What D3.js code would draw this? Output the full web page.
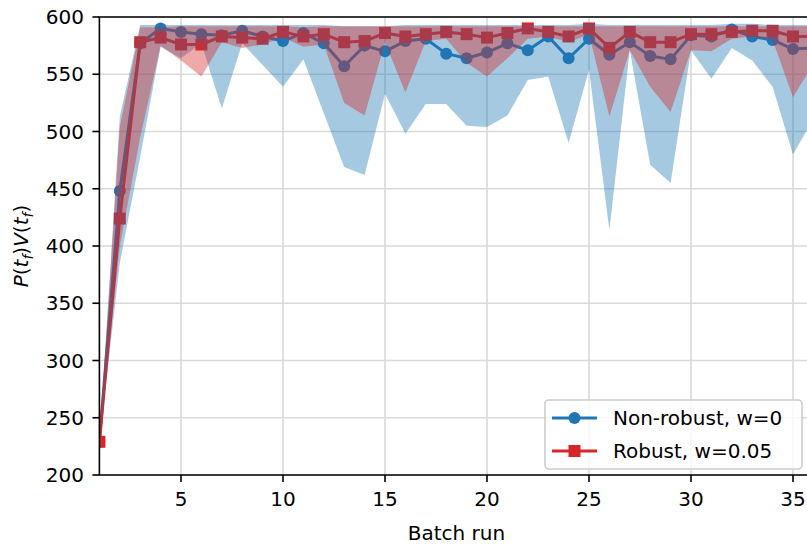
<!DOCTYPE html>
<html>
<head>
<meta charset="utf-8">
<script src="https://cdn.jsdelivr.net/npm/d3@7"></script>
<style>
  html, body { margin: 0; padding: 0; background: #fff; overflow: hidden; }
  svg { display: block; font-family: "DejaVu Sans", sans-serif; }
</style>
</head>
<body>
<svg id="chart" width="807" height="546"></svg>
<script>
// ---- data ----
const batches = [1,2,3,4,5,6,7,8,9,10,11,12,13,14,15,16,17,18,19,20,21,22,23,24,25,26,27,28,29,30,31,32,33,34,35,36];

const nonRobustMean = [229,448,577,590,587,585,584,588,583,579,586,577,557,575,570,579,581,568,564,569,577,571,583,564,581,567,578,566,563,584,583,589,583,580,572,573];
const nonRobustLow  = [229,385,478,574,564,577,520,577,558,539,563,516,469,462,533,498,524,524,505,504,514,545,548,490,554,414,571,471,455,571,546,573,562,539,480,511];
const nonRobustHigh = [229,513,593,593,593,593,593,593,593,593,593,593,592,592,592,593,593,593,593,593,593,593,593,593,594,593,593,593,593,593,593,594,594,593,593,593];

const robustMean = [229,424,578,582,576,576,583,582,581,587,583,585,578,579,586,583,585,587,585,582,586,590,587,583,590,573,587,578,578,585,585,587,588,588,583,583];
const robustLow  = [229,400,495,575,562,548,578,573,576,582,574,576,525,514,578,534,579,581,560,548,564,581,583,578,585,513,571,539,517,571,570,581,583,580,530,559];
const robustHigh = [229,504,591,591,592,592,592,592,592,592,591,592,592,592,592,592,592,592,592,592,592,592,592,592,592,592,592,592,592,592,592,592,592,592,592,592];

const xTicks = [5,10,15,20,25,30,35];
const yTicks = [200,250,300,350,400,450,500,550,600];
const seriesNames = ["Non-robust, w=0", "Robust, w=0.05"];
const xLabel = "Batch run";

// ---- layout ----
const svg = d3.select("#chart");
const pL = 99.4, pR = 813.4, pT = 17, pB = 475;
const blue = "#1f77b4", red = "#d62728";

const x = d3.scaleLinear().domain([1, 36]).range([pL, pR]);
const y = d3.scaleLinear().domain([200, 600]).range([pB, pT]);

const defs = svg.append("defs");
defs.append("clipPath").attr("id", "plotclip")
  .append("rect").attr("x", pL).attr("y", pT).attr("width", pR - pL).attr("height", pB - pT);

// grid
const grid = svg.append("g");
grid.selectAll("line.gx").data(xTicks).enter().append("line")
  .attr("x1", d => x(d)).attr("x2", d => x(d)).attr("y1", pT).attr("y2", pB)
  .attr("stroke", "#d9d9d9").attr("stroke-width", 1.6);
grid.selectAll("line.gy").data(yTicks).enter().append("line")
  .attr("x1", pL).attr("x2", pR).attr("y1", d => y(d)).attr("y2", d => y(d))
  .attr("stroke", "#d9d9d9").attr("stroke-width", 1.6);

const plot = svg.append("g").attr("clip-path", "url(#plotclip)");

const line = (vals) => d3.line().x((d, i) => x(batches[i])).y(d => y(d))(vals);
const area = (lo, hi) => d3.area()
  .x((d, i) => x(batches[i]))
  .y0((d, i) => y(lo[i]))
  .y1((d, i) => y(hi[i]))(lo);

// lines + markers (drawn first, fills over them)
plot.append("path").attr("d", line(nonRobustMean)).attr("fill", "none")
  .attr("stroke", blue).attr("stroke-width", 3).attr("stroke-linejoin", "round");
plot.selectAll("circle.nr").data(nonRobustMean).enter().append("circle")
  .attr("cx", (d, i) => x(batches[i])).attr("cy", d => y(d)).attr("r", 6).attr("fill", blue);

plot.append("path").attr("d", line(robustMean)).attr("fill", "none")
  .attr("stroke", red).attr("stroke-width", 3).attr("stroke-linejoin", "round");
plot.selectAll("rect.r").data(robustMean).enter().append("rect")
  .attr("x", (d, i) => x(batches[i]) - 6).attr("y", d => y(d) - 6)
  .attr("width", 12).attr("height", 12).attr("fill", red);

// bands
plot.append("path").attr("d", area(nonRobustLow, nonRobustHigh))
  .attr("fill", blue).attr("fill-opacity", 0.4);
plot.append("path").attr("d", area(robustLow, robustHigh))
  .attr("fill", red).attr("fill-opacity", 0.4);

// axes
const axes = svg.append("g");
axes.append("line").attr("x1", pL).attr("x2", pL).attr("y1", pT).attr("y2", pB)
  .attr("stroke", "#000").attr("stroke-width", 1.6);
axes.append("line").attr("x1", pL - 0.8).attr("x2", pR).attr("y1", pB).attr("y2", pB)
  .attr("stroke", "#000").attr("stroke-width", 1.6);
axes.append("line").attr("x1", pL - 0.8).attr("x2", pR).attr("y1", pT).attr("y2", pT)
  .attr("stroke", "#000").attr("stroke-width", 1.6);
axes.append("line").attr("x1", pR).attr("x2", pR).attr("y1", pT).attr("y2", pB)
  .attr("stroke", "#000").attr("stroke-width", 1.6);

// x ticks
axes.selectAll("line.xt").data(xTicks).enter().append("line")
  .attr("x1", d => x(d)).attr("x2", d => x(d)).attr("y1", pB).attr("y2", pB + 7)
  .attr("stroke", "#000").attr("stroke-width", 1.6);
axes.selectAll("text.xt").data(xTicks).enter().append("text")
  .attr("x", d => x(d)).attr("y", 506).attr("text-anchor", "middle")
  .attr("font-size", 20).attr("fill", "#000").text(d => d);

// y ticks
axes.selectAll("line.yt").data(yTicks).enter().append("line")
  .attr("x1", pL - 7).attr("x2", pL).attr("y1", d => y(d)).attr("y2", d => y(d))
  .attr("stroke", "#000").attr("stroke-width", 1.6);
axes.selectAll("text.yt").data(yTicks).enter().append("text")
  .attr("x", 84).attr("y", d => y(d)).attr("dy", "0.36em").attr("text-anchor", "end")
  .attr("font-size", 20).attr("fill", "#000").text(d => d);

// axis labels
svg.append("text").attr("x", x(18.5)).attr("y", 540).attr("text-anchor", "middle")
  .attr("font-size", 20).attr("fill", "#000").text(xLabel);

const yl = svg.append("text").attr("transform", "translate(28,246) rotate(-90)")
  .attr("text-anchor", "middle").attr("font-size", 20).attr("fill", "#000");
const parts = [
  {t: "P", it: true}, {t: "(", it: false}, {t: "t", it: true}, {t: "f", it: true, sub: true},
  {t: ")", it: false}, {t: "V", it: true}, {t: "(", it: false}, {t: "t", it: true},
  {t: "f", it: true, sub: true}, {t: ")", it: false}
];
let wasSub = false;
parts.forEach(p => {
  const ts = yl.append("tspan").text(p.t)
    .attr("font-style", p.it ? "italic" : "normal");
  if (p.sub) { ts.attr("font-size", 14).attr("dy", 5); wasSub = true; }
  else if (wasSub) { ts.attr("dy", -5); wasSub = false; }
});

// legend
const lg = svg.append("g");
lg.append("rect").attr("x", 545).attr("y", 400).attr("width", 257).attr("height", 69)
  .attr("rx", 4).attr("fill", "#fff").attr("fill-opacity", 0.8)
  .attr("stroke", "#cccccc").attr("stroke-width", 1.6);
const rows = [{name: seriesNames[0], color: blue, shape: "circle", yy: 418},
              {name: seriesNames[1], color: red, shape: "square", yy: 451}];
rows.forEach(r => {
  lg.append("line").attr("x1", 552).attr("x2", 597).attr("y1", r.yy).attr("y2", r.yy)
    .attr("stroke", r.color).attr("stroke-width", 3);
  if (r.shape === "circle") {
    lg.append("circle").attr("cx", 574.5).attr("cy", r.yy).attr("r", 6).attr("fill", r.color);
  } else {
    lg.append("rect").attr("x", 568.5).attr("y", r.yy - 6).attr("width", 12).attr("height", 12).attr("fill", r.color);
  }
  lg.append("text").attr("x", 613).attr("y", r.yy).attr("dy", "0.36em")
    .attr("font-size", 20).attr("fill", "#000").text(r.name);
});
</script>
</body>
</html>
